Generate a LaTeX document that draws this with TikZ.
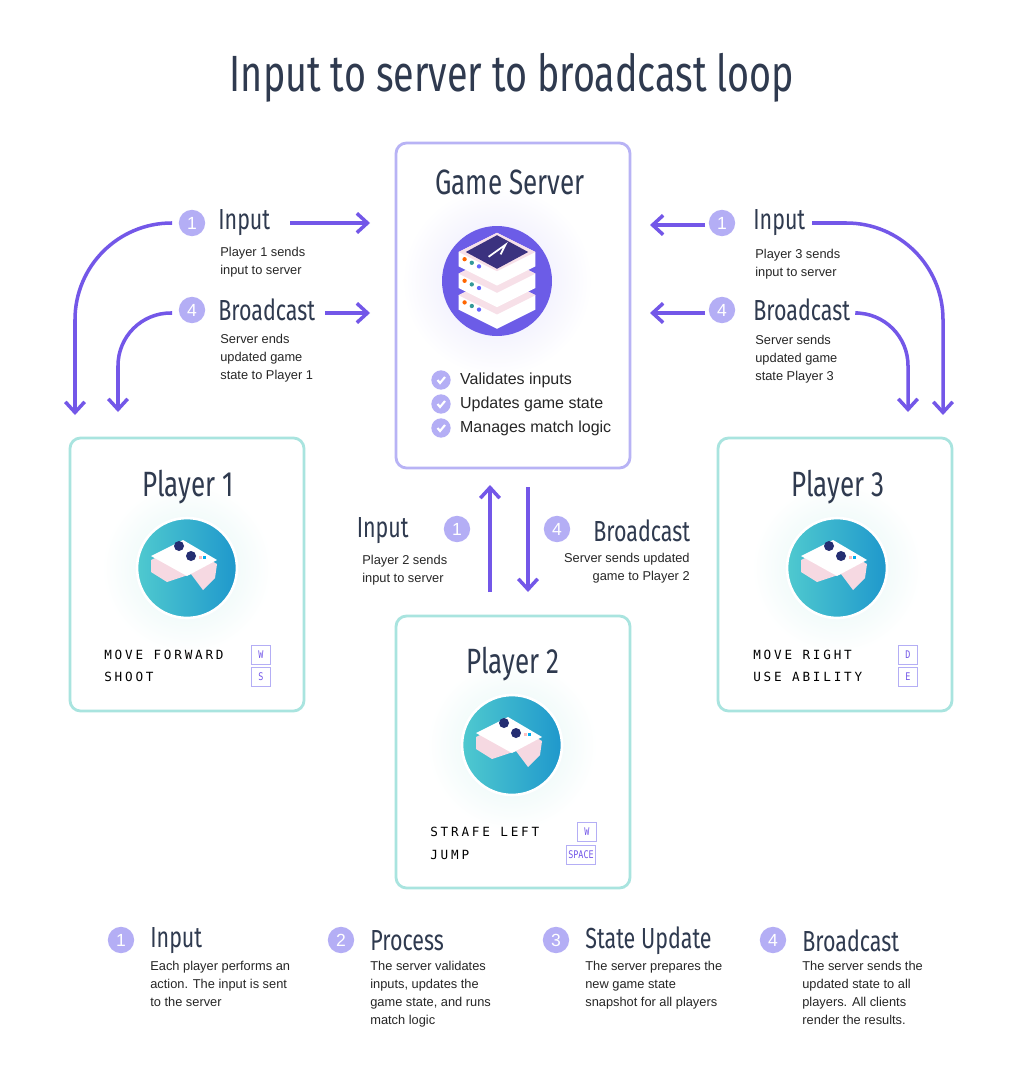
\documentclass[tikz,border=0pt]{standalone}
\usepackage{fontspec}
\setmainfont{Liberation Sans}
\newfontfamily\headfont{Fira Sans}[FakeStretch=0.74]
\newfontfamily\keyfont{DejaVu Sans Mono}[LetterSpace=22]
\newfontfamily\capfont{DejaVu Sans Mono}[FakeStretch=0.8]
\usetikzlibrary{arrows.meta,positioning,calc}
\definecolor{ink}{HTML}{2F3A4F}
\definecolor{arr}{HTML}{7357E8}
\definecolor{num}{HTML}{B4AEF5}
\definecolor{srvline}{HTML}{B8B3F5}
\definecolor{plline}{HTML}{A9E4DF}
\definecolor{srvpurple}{HTML}{6C5CE7}
\definecolor{tealA}{HTML}{4FC9CF}
\definecolor{tealB}{HTML}{1F98CC}
\tikzset{
  card/.style={draw=#1,line width=1.6pt,rounded corners=6pt,fill=white},
  head/.style={font=\headfont\fontsize{20}{22}\selectfont,text=ink},
  badge/.style={circle,fill=num,text=white,minimum size=15pt,inner sep=0pt,font=\fontsize{10}{10}\selectfont},
  lbl/.style={font=\headfont\fontsize{16.5}{18}\selectfont,text=ink,inner sep=0pt},
  small/.style={font=\fontsize{7.3}{10.2}\selectfont,text=black!85,align=left,inner sep=0pt},
  flow/.style={draw=arr,line width=2pt,-{Straight Barb[length=6pt,width=11pt]}},
  keyname/.style={font=\keyfont\fontsize{7.2}{8}\selectfont,anchor=west,inner sep=0pt},
  keycap/.style={draw=num,line width=0.6pt,minimum width=11pt,minimum height=11pt,inner sep=1pt,text=arr,font=\capfont\fontsize{6}{6}\selectfont},
  check/.style={circle,fill=num,minimum size=11pt,inner sep=0pt}
}
\newcommand{\padicon}[1]{%
  \shade[left color=tealA,right color=tealB,draw=white,line width=1.5pt] (#1) circle (50);
  \begin{scope}[shift={(#1)}]
    \fill[white!85!purple] (-36,-8) -- (-4,-24) -- (30,-4) -- (28,10) -- (16,22) -- (4,6) -- (-20,14) -- (-36,4) -- cycle;
    \fill[white] (-36,-12) -- (-4,-28) -- (30,-8) -- (0,8) -- cycle;
    \fill[ink!80!blue] (-8,-22) circle (5) (4,-12) circle (5);
    \fill[pink] (12,-12) rectangle (15,-9);
    \fill[cyan] (16,-12) rectangle (19,-9);
  \end{scope}}
\newcommand{\slab}[1]{%
  \fill[white] (-32,#1) -- (0,#1-16) -- (32,#1) -- (32,#1+12) -- (0,#1+28) -- (-32,#1+12) -- cycle;
  \fill[white!88!purple] (-32,#1) -- (0,#1+16) -- (32,#1) -- (0,#1-16) -- cycle;
  \fill[orange!80!red] (-27,#1+6) circle (1.8);
  \fill[teal!80] (-21,#1+9) circle (1.8);
  \fill[blue!60] (-15,#1+12) circle (1.8);}
\begin{document}
\begin{tikzpicture}[x=0.02cm,y=-0.02cm]
\useasboundingbox[fill=white] (0,0) rectangle (1024,1081);
\node[font=\headfont\fontsize{29}{32}\selectfont,text=ink] (title) at (512,78) {Input to server to broadcast loop};

% cards
\draw[card=srvline] (396,143) rectangle (630,468);
\draw[card=plline] (70,438) rectangle (304,711);
\draw[card=plline] (718,438) rectangle (952,711);
\draw[card=plline] (396,616) rectangle (630,888);
\shade[inner color=srvline!35,outer color=white] (497,281) circle (95);
\shade[inner color=plline!35,outer color=white] (187,568) circle (85);
\shade[inner color=plline!35,outer color=white] (837,568) circle (85);
\shade[inner color=plline!35,outer color=white] (512,745) circle (85);

% server
\node[head] (srvtitle) at (510,182) {Game Server};
\fill[srvpurple] (497,281) circle (55);
\begin{scope}[shift={(497,276)},scale=1.2]
  \slab{16}
  \slab{-2}
  \slab{-20}
  \fill[srvpurple!55!black] (-26,-20) -- (0,-34) -- (26,-20) -- (0,-6) -- cycle;
  \draw[white,line width=1pt] (-7,-16) -- (7,-26) -- (3,-18);
\end{scope}
\foreach \t [count=\i] in {Validates inputs,Updates game state,Manages match logic} {
  \node[check] (chk\i) at (441,356+24*\i) {};
  \draw[white,line width=1.2pt] ($(chk\i)+(-3.5,0)$) -- ++(2.5,3) -- ++(5,-6);
  \node[small,font=\fontsize{9.1}{10}\selectfont,anchor=west,right=5pt of chk\i] (chkt\i) {\t};
}

% players
\node[head] (p1title) at (188,487) {Player 1};
\padicon{187,568}
\node[keyname] (p1a) at (104,655) {MOVE FORWARD};
\node[keyname] (p1b) at (104,677) {SHOOT};
\node[keycap] (p1ka) at (261,655) {W};
\node[keycap] (p1kb) at (261,677) {S};

\node[head] (p3title) at (838,487) {Player 3};
\padicon{837,568}
\node[keyname] (p3a) at (753,655) {MOVE RIGHT};
\node[keyname] (p3b) at (753,677) {USE ABILITY};
\node[keycap] (p3ka) at (908,655) {D};
\node[keycap] (p3kb) at (908,677) {E};

\node[head] (p2title) at (513,664) {Player 2};
\padicon{512,745}
\node[keyname] (p2a) at (430,832) {STRAFE LEFT};
\node[keyname] (p2b) at (430,855) {JUMP};
\node[keycap] (p2ka) at (587,832) {W};
\node[keycap] (p2kb) at (581,855) {SPACE};

% left side flows
\node[badge] (l1) at (192,223) {1};
\node[lbl,anchor=west] (l1t) at (218,223) {Input};
\node[small,anchor=north west] (l1s) at (220,247) {Player 1 sends\\input to server};
\node[badge] (l4) at (192,310) {4};
\node[lbl,anchor=west] (l4t) at (218,310) {Broadcast};
\node[small,anchor=north west] (l4s) at (220,334) {Server ends\\updated game\\state to Player 1};
\coordinate (l1a) at (290,223); \coordinate (l1b) at (370,223);
\coordinate (l4a) at (325,313); \coordinate (l4b) at (370,313);
\draw[flow] (l1a) -- (l1b);
\draw[flow] (l4a) -- (l4b);
\coordinate (l1c) at (172,223); \coordinate (l1d) at (75,415);
\coordinate (l4c) at (172,313); \coordinate (l4d) at (118,412);
\draw[flow,rounded corners=55pt] (l1c) -| (l1d);
\draw[flow,rounded corners=30pt] (l4c) -| (l4d);

% right side flows
\node[badge] (r1) at (722,223) {1};
\node[lbl,anchor=west] (r1t) at (753,223) {Input};
\node[small,anchor=north west] (r1s) at (755,249) {Player 3 sends\\input to server};
\node[badge] (r4) at (722,310) {4};
\node[lbl,anchor=west] (r4t) at (753,310) {Broadcast};
\node[small,anchor=north west] (r4s) at (755,335) {Server sends\\updated game\\state Player 3};
\coordinate (r1a) at (705,225); \coordinate (r1b) at (650,225);
\coordinate (r4a) at (705,313); \coordinate (r4b) at (650,313);
\draw[flow] (r1a) -- (r1b);
\draw[flow] (r4a) -- (r4b);
\coordinate (r1c) at (812,223); \coordinate (r1d) at (943,415);
\coordinate (r4c) at (858,313); \coordinate (r4d) at (908,412);
\draw[flow,rounded corners=55pt] (r1c) -| (r1d);
\draw[flow,rounded corners=30pt] (r4c) -| (r4d);

% middle flows
\node[lbl,anchor=east] (m1t) at (409,531) {Input};
\node[badge] (m1) at (457,529) {1};
\node[small,anchor=north west] (m1s) at (362,555) {Player 2 sends\\input to server};
\node[badge] (m4) at (557,529) {4};
\node[lbl,anchor=west] (m4t) at (593,531) {Broadcast};
\node[small,anchor=north east,align=right] (m4s) at (690,553) {Server sends updated\\game to Player 2};
\coordinate (m1a) at (490,592); \coordinate (m1b) at (490,485);
\coordinate (m4a) at (528,487); \coordinate (m4b) at (528,592);
\draw[flow] (m1a) -- (m1b);
\draw[flow] (m4a) -- (m4b);

% legend
\foreach \x/\n/\t/\d in {
  121/1/Input/{Each player performs an\\action. The input is sent\\to the server},
  341/2/Process/{The server validates\\inputs, updates the\\game state, and runs\\match logic},
  556/3/State Update/{The server prepares the\\new game state\\snapshot for all players},
  773/4/Broadcast/{The server sends the\\updated state to all\\players. All clients\\render the results.}} {
  \node[badge] (k\n) at (\x,940) {\n};
  \node[lbl,anchor=west] (kt\n) at (\x+29,941) {\t};
  \node[small,anchor=north west] (kd\n) at (\x+29,961) {\d};
}
\end{tikzpicture}
\end{document}
